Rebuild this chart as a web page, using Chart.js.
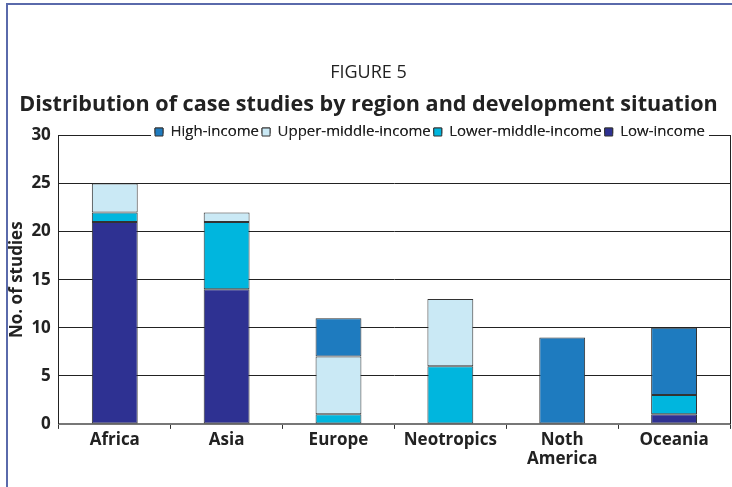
<!DOCTYPE html>
<html>
<head>
<meta charset="utf-8">
<script src="https://cdn.jsdelivr.net/npm/chart.js@4"></script>
<style>
  html, body { margin: 0; padding: 0; background: #fff; }
  #wrap { position: relative; width: 732px; height: 487px; overflow: hidden; }
  #frame { position: absolute; left: 6px; top: 3px; width: 800px; height: 600px;
           border-left: 2px solid #5a6aab; border-top: 2px solid #5a6aab; }
  #myChart { position: absolute; left: 0; top: 0; }
</style>
</head>
<body>
<div id="wrap">
  <div id="frame"></div>
  <canvas id="myChart" width="732" height="487"></canvas>
</div>
<script>
const regions = ["Africa", "Asia", "Europe", "Neotropics", ["Noth", "America"], "Oceania"];
const lowIncome = [21, 14, 0, 0, 0, 1];
const lowerMiddle = [1, 7, 1, 6, 0, 2];
const upperMiddle = [3, 1, 6, 7, 0, 0];
const highIncome = [0, 0, 4, 0, 9, 7];
const yTicks = [0, 5, 10, 15, 20, 25, 30];

const FONT = "'Open Sans', Lato, sans-serif";

function series(label, values, color) {
  return {
    label: label,
    data: values,
    backgroundColor: color,
    borderColor: "#333",
    borderWidth: 1,
    borderSkipped: false,
    barPercentage: 0.41,
    categoryPercentage: 1,
  };
}

// legend sits on the 30 gridline, with a white gap behind it
const legendOnLine = {
  id: "legendOnLine",
  afterLayout(chart) {
    const lg = chart.legend;
    const d = chart.chartArea.top - (lg.top + lg.bottom) / 2;
    lg.top += d;
    lg.bottom += d;
    lg.right = chart.chartArea.right - 22;
  },
  afterDraw(chart) {
    const lg = chart.legend;
    const hb = lg.legendHitBoxes;
    if (!hb || !hb.length) return;
    const l = Math.min(...hb.map(h => h.left)) - 4;
    const r = Math.max(...hb.map(h => h.left + h.width)) + 4;
    const ctx = chart.ctx;
    ctx.save();
    ctx.fillStyle = "#fff";
    ctx.fillRect(l, chart.chartArea.top - 2, r - l, 4);
    ctx.restore();
    lg.draw();
  },
};

const data = {
  labels: regions,
  datasets: [
    series("Low-income", lowIncome, "#2e3192"),
    series("Lower-middle-income", lowerMiddle, "#00b6de"),
    series("Upper-middle-income", upperMiddle, "#cae9f5"),
    series("High-income", highIncome, "#1e7bbf"),
  ],
};

const config = {
  type: "bar",
  data: data,
  plugins: [legendOnLine],
  options: {
    responsive: false,
    animation: false,
    layout: { padding: { left: 7, right: 2, top: 0, bottom: 17 } },
    plugins: {
      title: {
        display: true,
        text: "FIGURE 5",
        color: "#222",
        font: { family: FONT, size: 18, weight: "normal" },
        padding: { top: 62, bottom: 5 },
      },
      subtitle: {
        display: true,
        text: "Distribution of case studies by region and development situation",
        color: "#222",
        font: { family: FONT, size: 21.6, weight: "bold" },
        padding: { top: 3, bottom: -10 },
      },
      legend: {
        position: "top",
        align: "end",
        fullSize: false,
        reverse: true,
        labels: {
          boxWidth: 8,
          boxHeight: 8,
          padding: 3,
          color: "#222",
          font: { family: FONT, size: 15, lineHeight: 1 },
        },
      },
      tooltip: { enabled: false },
    },
    scales: {
      x: {
        stacked: true,
        grid: {
          offset: true,
          drawOnChartArea: false,
          drawTicks: true,
          tickLength: 5,
          color: "#333",
        },
        border: { color: "#777", width: 2 },
        ticks: {
          color: "#222",
          padding: 1,
          font: { family: FONT, size: 17, weight: "bold", lineHeight: 1.15 },
        },
      },
      y: {
        stacked: true,
        min: 0,
        max: 30,
        afterBuildTicks(scale) {
          scale.ticks = yTicks.map(v => ({ value: v }));
        },
        grid: { color: "#222", drawTicks: false },
        border: { color: "#222", width: 1 },
        ticks: {
          color: "#222",
          padding: 8,
          font: { family: FONT, size: 17, weight: "bold" },
        },
        title: {
          display: true,
          text: "No. of studies",
          color: "#222",
          padding: { top: 0, bottom: -4 },
          font: { family: FONT, size: 17, weight: "bold" },
        },
      },
      y2: {
        position: "right",
        min: 0,
        max: 30,
        grid: { display: false, drawTicks: false },
        ticks: { display: false },
        border: { display: true, color: "#222", width: 1 },
      },
    },
  },
};

var myChart = new Chart(document.getElementById("myChart"), config);
</script>
</body>
</html>
